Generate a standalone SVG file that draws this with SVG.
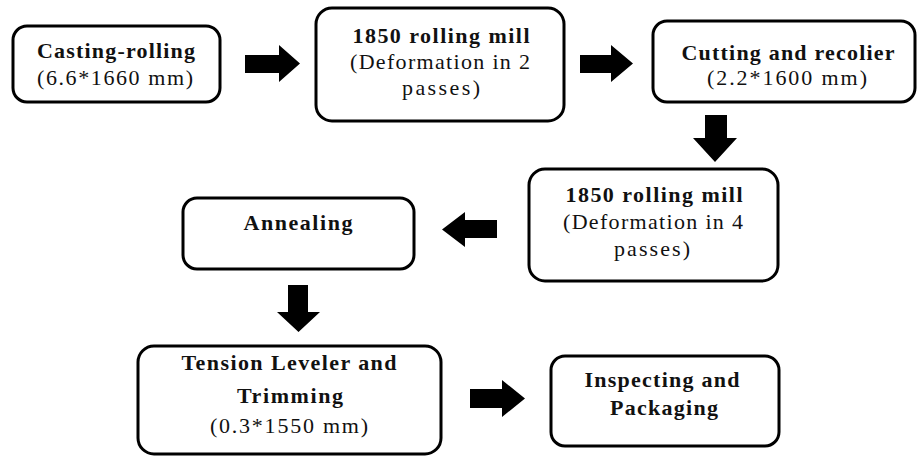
<svg xmlns="http://www.w3.org/2000/svg" width="917" height="457" viewBox="0 0 917 457">
<style>
.box{fill:#fff;stroke:#000;stroke-width:3}
.b{font-family:"Liberation Serif","Times New Roman",serif;font-weight:bold;font-size:22px;fill:#111;text-anchor:middle}
.r{font-family:"Liberation Serif","Times New Roman",serif;font-size:22px;fill:#111;text-anchor:middle}
.arr{fill:#000}
</style>
<rect width="917" height="457" fill="#fff"/>
<g id="connectors">
<polygon class="arr" points="245,55 279,55 279,45 300,63.5 279,82 279,73 245,73"/>
<polygon class="arr" points="580,55 611,55 611,45 633,63.5 611,82 611,73 580,73"/>
<polygon class="arr" points="705,115 727,115 727,138 737,138 715,162 693,138 705,138"/>
<polygon class="arr" points="497,220 465,220 465,212 442,229.5 465,247 465,238 497,238"/>
<polygon class="arr" points="288,285 308,285 308,312 320,312 298.5,332 277,312 288,312"/>
<polygon class="arr" points="470,389 502,389 502,380 525,398.5 502,417 502,408 470,408"/>
</g>
<g id="casting">
<rect class="box" x="13" y="26" width="207" height="76" rx="14"/>
<text class="b" x="116" y="58" textLength="158" lengthAdjust="spacing">Casting-rolling</text>
<text class="r" x="115" y="85" textLength="156" lengthAdjust="spacing">(6.6*1660 mm)</text>
</g>
<g id="mill1">
<rect class="box" x="316" y="8" width="248" height="113" rx="16"/>
<text class="b" x="441" y="43" textLength="177" lengthAdjust="spacing">1850 rolling mill</text>
<text class="r" x="440" y="69" textLength="180" lengthAdjust="spacing">(Deformation in 2</text>
<text class="r" x="441" y="95" textLength="78" lengthAdjust="spacing">passes)</text>
</g>
<g id="cutting">
<rect class="box" x="653" y="21" width="262" height="81" rx="14"/>
<text class="b" x="788" y="60" textLength="213" lengthAdjust="spacing">Cutting and recolier</text>
<text class="r" x="787" y="85" textLength="160" lengthAdjust="spacing">(2.2*1600 mm)</text>
</g>
<g id="mill2">
<rect class="box" x="529" y="169" width="249" height="112" rx="16"/>
<text class="b" x="654" y="202" textLength="177" lengthAdjust="spacing">1850 rolling mill</text>
<text class="r" x="653" y="229" textLength="180" lengthAdjust="spacing">(Deformation in 4</text>
<text class="r" x="652" y="256" textLength="76" lengthAdjust="spacing">passes)</text>
</g>
<g id="annealing">
<rect class="box" x="183" y="198" width="231" height="71" rx="14"/>
<text class="b" x="298" y="230" textLength="109" lengthAdjust="spacing">Annealing</text>
</g>
<g id="tension">
<rect class="box" x="138" y="346" width="303" height="108" rx="16"/>
<text class="b" x="289" y="370" textLength="215" lengthAdjust="spacing">Tension Leveler and</text>
<text class="b" x="290" y="403" textLength="106" lengthAdjust="spacing">Trimming</text>
<text class="r" x="289" y="433" textLength="158" lengthAdjust="spacing">(0.3*1550 mm)</text>
</g>
<g id="inspecting">
<rect class="box" x="551" y="356" width="228" height="90" rx="14"/>
<text class="b" x="662" y="387" textLength="155" lengthAdjust="spacing">Inspecting and</text>
<text class="b" x="664" y="415" textLength="108" lengthAdjust="spacing">Packaging</text>
</g>
</svg>
